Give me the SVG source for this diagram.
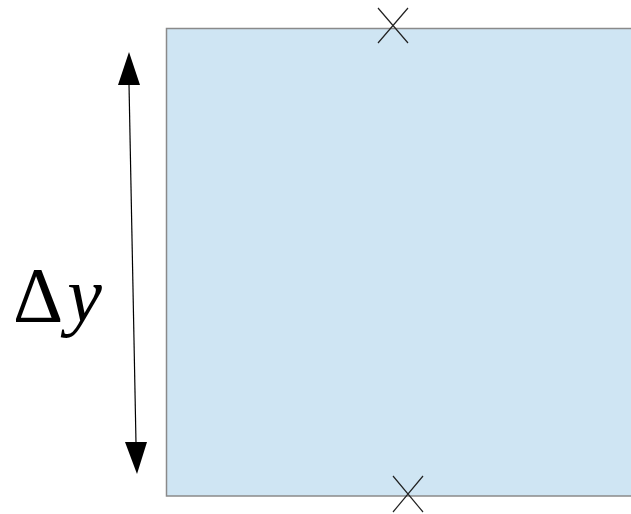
<svg xmlns="http://www.w3.org/2000/svg" width="631" height="514" viewBox="0 0 631 514">
<style>
.cross{stroke:#222;stroke-width:1.2;fill:none}
.lbl{font-family:"Liberation Serif","DejaVu Serif",serif;font-size:78px;fill:#000}
</style>
<rect width="631" height="514" fill="#fff"/>
<g id="region">
<rect x="166.5" y="28.5" width="480" height="467.5" fill="#cfe5f3" stroke="#8a8a8a" stroke-width="1.5"/>
</g>
<g id="markers">
<path class="cross" d="M378 8 L408 43 M408 8 L378 43"/>
<path class="cross" d="M393 476 L423 512 M423 476 L393 512"/>
</g>
<g id="connectors">
<line x1="129" y1="84" x2="136" y2="443" stroke="#000" stroke-width="1.2"/>
<polygon points="129,52 118,85 140,85" fill="#000"/>
<polygon points="137,474 125,442 147,442" fill="#000"/>
</g>
<g id="label">
<text class="lbl" x="13" y="321">Δ<tspan font-style="italic" dx="4">y</tspan></text>
</g>
</svg>
